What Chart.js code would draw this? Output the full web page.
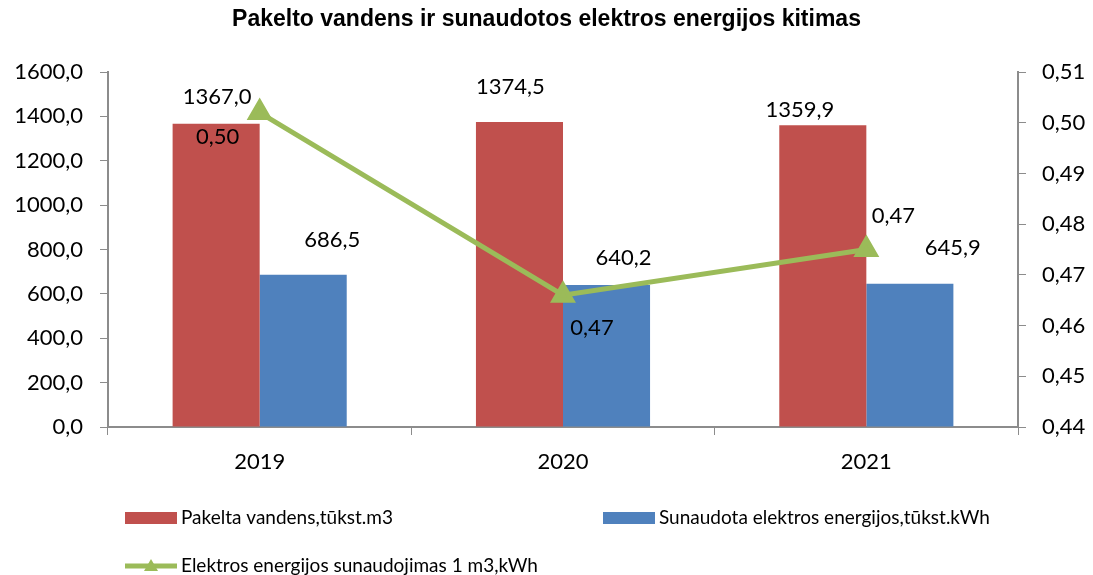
<!DOCTYPE html>
<html>
<head>
<meta charset="utf-8">
<script src="https://cdn.jsdelivr.net/npm/chart.js@4.4.0/dist/chart.umd.min.js"></script>
<style>
  html, body { margin: 0; padding: 0; background: #fff; }
  #wrap { width: 1093px; height: 575px; }
</style>
</head>
<body>
<div id="wrap"><canvas id="grafikas"></canvas></div>
<script>
// --- duomenys ---
const metai = ['2019', '2020', '2021'];
const pakeltaVandens = [1367.0, 1374.5, 1359.9];
const sunaudotaEnergijos = [686.5, 640.2, 645.9];
const energijaM3 = [0.502, 0.466, 0.475];
const kaireAsis = [0, 1600, 200];
const desineAsis = [0.44, 0.51, 0.01];

// etikeciu poslinkiai (px) nuo stulpelio virsaus / tasko
const poslinkisRaudona = [[1, -27], [-9, -35], [-23, -15]];
const poslinkisMelyna = [[29, -35], [17, -27], [43, -36]];
const poslinkisLinija = [[-42, 24], [29, 33], [27, -34]];

const SRIFTAS = "Lato, 'Open Sans', sans-serif";
const kablelis = (v, d) => v.toFixed(d).replace('.', ',');

// etiketes ant stulpeliu ir linijos
const etiketes = {
    id: 'etiketes',
    afterDatasetsDraw(chart) {
        const ctx = chart.ctx;
        ctx.save();
        ctx.font = '22px ' + SRIFTAS;
        ctx.fillStyle = '#000';
        ctx.textAlign = 'center';
        ctx.textBaseline = 'middle';
        const rinkiniai = [
            [0, poslinkisRaudona, 1],
            [1, poslinkisMelyna, 1],
            [2, poslinkisLinija, 2]
        ];
        rinkiniai.forEach(([idx, posl, d]) => {
            const meta = chart.getDatasetMeta(idx);
            meta.data.forEach((el, i) => {
                const v = chart.data.datasets[idx].data[i];
                ctx.fillText(kablelis(v, d), el.x + posl[i][0], el.y + posl[i][1]);
            });
        });
        ctx.restore();
    }
};

// legenda apacioje, kaip Excel
const legenda = {
    id: 'legenda',
    afterDraw(chart) {
        const ctx = chart.ctx;
        const ds = chart.data.datasets;
        const vietos = [[125, 518], [603, 518], [125, 566]];
        ctx.save();
        ctx.font = '19px ' + SRIFTAS;
        ctx.textBaseline = 'middle';
        ctx.textAlign = 'left';
        ds.forEach((d, i) => {
            const [x, y] = vietos[i];
            if (d.type === 'line') {
                ctx.strokeStyle = d.borderColor;
                ctx.lineWidth = 5;
                ctx.beginPath();
                ctx.moveTo(x, y);
                ctx.lineTo(x + 52, y);
                ctx.stroke();
                ctx.fillStyle = d.borderColor;
                ctx.beginPath();
                ctx.moveTo(x + 26, y - 7);
                ctx.lineTo(x + 33, y + 5);
                ctx.lineTo(x + 19, y + 5);
                ctx.closePath();
                ctx.fill();
            } else {
                ctx.fillStyle = d.backgroundColor;
                ctx.fillRect(x, y - 6, 52, 12);
            }
            ctx.fillStyle = '#000';
            ctx.fillText(d.label, x + 56, y);
        });
        ctx.restore();
    }
};

const pilka = '#8c8c8c';

new Chart(document.getElementById('grafikas'), {
    data: {
        labels: metai,
        datasets: [
            {
                type: 'bar',
                label: 'Pakelta vandens,tūkst.m3',
                data: pakeltaVandens,
                backgroundColor: '#C0504D',
                yAxisID: 'y',
                categoryPercentage: 0.574,
                barPercentage: 1,
                order: 2
            },
            {
                type: 'bar',
                label: 'Sunaudota elektros energijos,tūkst.kWh',
                data: sunaudotaEnergijos,
                backgroundColor: '#4F81BD',
                yAxisID: 'y',
                categoryPercentage: 0.574,
                barPercentage: 1,
                order: 2
            },
            {
                type: 'line',
                label: 'Elektros energijos sunaudojimas 1 m3,kWh',
                data: energijaM3,
                borderColor: '#9BBB59',
                backgroundColor: '#9BBB59',
                borderWidth: 5,
                pointStyle: 'triangle',
                pointRadius: 10,
                pointHoverRadius: 10,
                tension: 0,
                yAxisID: 'y1',
                order: 1
            }
        ]
    },
    options: {
        responsive: true,
        maintainAspectRatio: false,
        animation: false,
        layout: { padding: { left: 0, right: 0, top: 0, bottom: 100 } },
        plugins: {
            legend: { display: false },
            tooltip: { enabled: false },
            title: {
                display: true,
                text: 'Pakelto vandens ir sunaudotos elektros energijos kitimas',
                color: '#000',
                font: { family: "'Liberation Sans', Arial, sans-serif", size: 23, weight: 'bold' },
                padding: { top: 6, bottom: 38.4 }
            }
        },
        scales: {
            x: {
                grid: {
                    display: true, drawOnChartArea: false, offset: true,
                    tickLength: 8, color: pilka
                },
                border: { color: pilka, width: 2 },
                ticks: { color: '#000', font: { family: SRIFTAS, size: 22 }, padding: 14 },
                afterFit(s) { s.height = 48; }
            },
            y: {
                position: 'left',
                min: kaireAsis[0], max: kaireAsis[1],
                grid: { display: true, drawOnChartArea: false, tickLength: 8, color: pilka },
                border: { color: pilka, width: 2 },
                ticks: {
                    stepSize: kaireAsis[2], color: '#000',
                    font: { family: SRIFTAS, size: 22 }, padding: 17,
                    callback: v => kablelis(v, 1)
                },
                afterFit(s) { s.width = 108; }
            },
            y1: {
                position: 'right',
                min: desineAsis[0], max: desineAsis[1],
                grid: { display: true, drawOnChartArea: false, tickLength: 8, color: pilka },
                border: { color: pilka, width: 2 },
                ticks: {
                    stepSize: desineAsis[2], color: '#000',
                    font: { family: SRIFTAS, size: 22 }, padding: 16,
                    callback: v => kablelis(v, 2)
                },
                afterFit(s) { s.width = 75; }
            }
        }
    },
    plugins: [etiketes, legenda]
});
</script>
</body>
</html>
